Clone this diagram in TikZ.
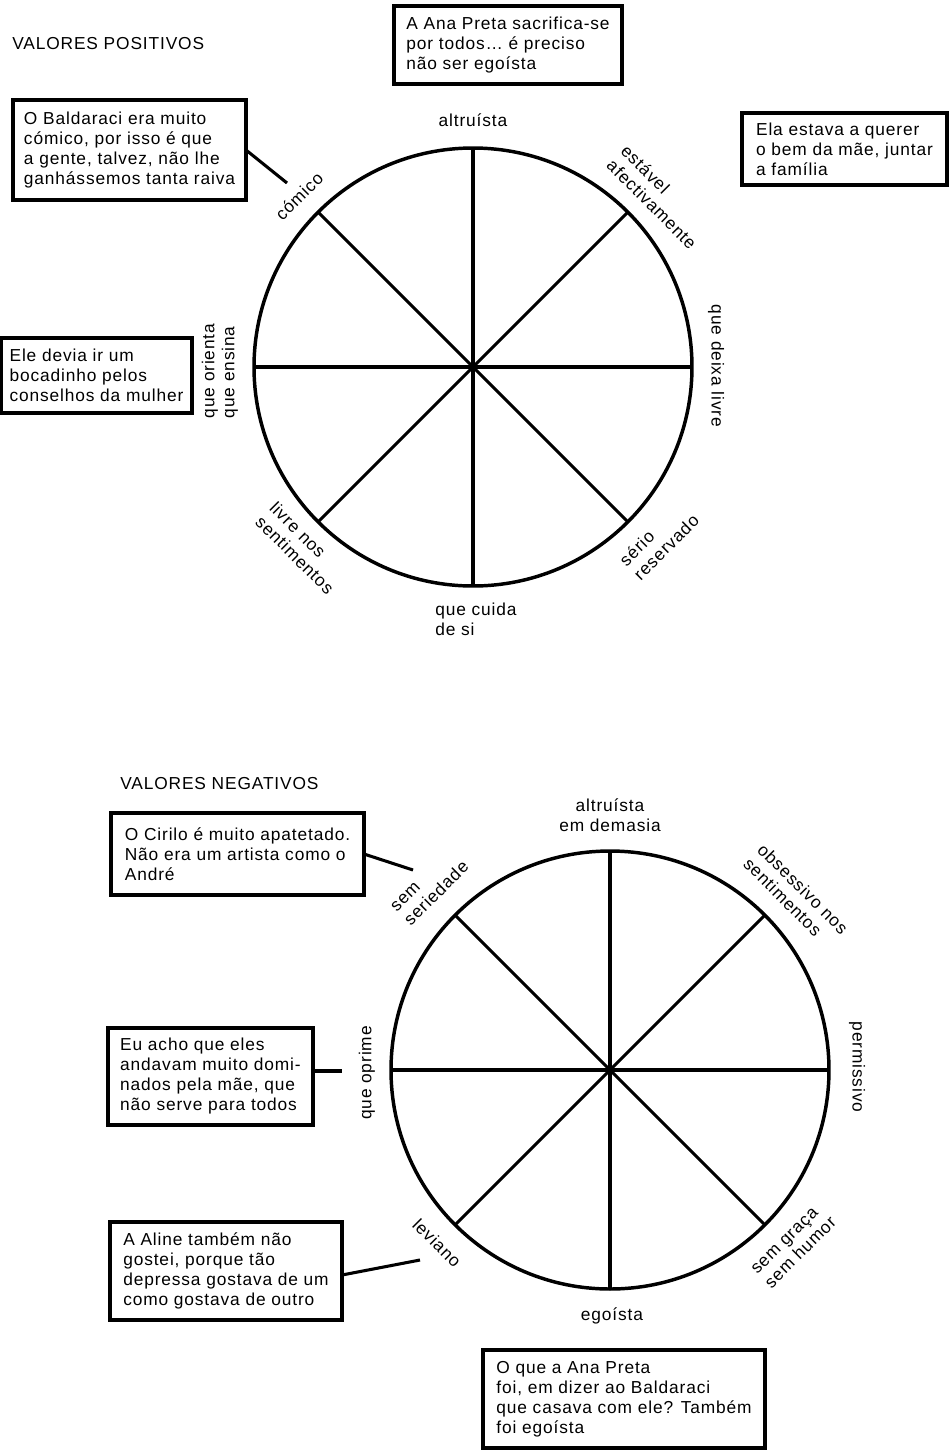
\documentclass[tikz,border=0pt]{standalone}
\usepackage{fontspec}
\setmainfont{Liberation Sans}[LetterSpace=5]
\begin{document}
\begin{tikzpicture}[x=0.75pt,y=-0.75pt,
  font=\fontsize{13}{15}\selectfont,
  box/.style={draw, line width=2.5pt, align=left, inner xsep=7pt, inner ysep=4pt, outer sep=0pt},
  lab/.style={align=left, inner sep=0pt},
  clab/.style={align=center, inner sep=0pt},
  wheel/.style={circle, draw, line width=2.6pt, minimum size=328.5pt, inner sep=0pt, outer sep=0pt},
  spoke/.style={line width=2.3pt},
  link/.style={line width=2.3pt}]
\useasboundingbox (0,0) rectangle (949,1454);

% ---------- VALORES POSITIVOS ----------
\node[lab, anchor=west] (tpos) at (12,44) {VALORES POSITIVOS};

\node[wheel] (W1) at (473,367) {};
\foreach \a in {0,45,...,315} \draw[spoke] (W1.center) -- (W1.\a);

\node[clab] (p1) at (473,120) {altruísta};
\node[lab, rotate=-45] (p2) at (659,197) {estável\\afectivamente};
\node[lab, rotate=-90] (p3) at (716,366) {que deixa livre};
\node[lab, rotate=45] (p4) at (659,540) {sério\\reservado};
\node[lab] (p5) at (476,619) {que cuida\\de si};
\node[lab, rotate=-45] (p6) at (302,548) {livre nos\\sentimentos};
\node[lab, rotate=90] (p7) at (220,371) {que orienta\\que ensina};
\node[lab, rotate=45] (p8) at (299,196) {cómico};

\node[box, minimum width=171pt, minimum height=58.5pt] (b1) at (508,45)
  {A Ana Preta sacrifica-se\\por todos… é preciso\\não ser egoísta};
\node[box, minimum width=174.75pt, minimum height=75pt] (b2) at (129.5,150)
  {O Baldaraci era muito\\cómico, por isso é que\\a gente, talvez, não lhe\\ganhássemos tanta raiva};
\node[box, minimum width=153.75pt, minimum height=54pt] (b3) at (844.5,149)
  {Ela estava a querer\\o bem da mãe, juntar\\a família};
\node[box, minimum width=143.25pt, minimum height=56.25pt, inner xsep=3pt] (b4) at (96.5,375.5)
  {Ele devia ir um\\bocadinho pelos\\conselhos da mulher};

\coordinate (e2) at (287,183);
\draw[link] (b2.east) -- (e2);

% ---------- VALORES NEGATIVOS ----------
\node[lab, anchor=west] (tneg) at (120,784) {VALORES NEGATIVOS};

\node[wheel] (W2) at (610,1070) {};
\foreach \a in {0,45,...,315} \draw[spoke] (W2.center) -- (W2.\a);

\node[clab] (n1) at (610,815) {altruísta\\em demasia};
\node[lab, rotate=-45] (n2) at (796,896) {obsessivo nos\\sentimentos};
\node[lab, rotate=-90] (n3) at (857,1067) {permissivo};
\node[lab, rotate=45] (n4) at (794,1246) {sem graça\\sem humor};
\node[clab] (n5) at (612,1316) {egoísta};
\node[lab, rotate=-45] (n6) at (437,1243) {leviano};
\node[lab, rotate=90] (n7) at (367,1073) {que oprime};
\node[lab, rotate=45] (n8) at (430,887) {sem\\seriedade};

\node[box, minimum width=189.75pt, minimum height=61.5pt] (b5) at (237.5,854)
  {O Cirilo é muito apatetado.\\Não era um artista como o\\André};
\node[box, minimum width=153.75pt, minimum height=72.75pt] (b6) at (210.5,1076.5)
  {Eu acho que eles\\andavam muito domi-\\nados pela mãe, que\\não serve para todos};
\node[box, minimum width=174pt, minimum height=73.5pt] (b7) at (226,1271)
  {A Aline também não\\gostei, porque tão\\depressa gostava de um\\como gostava de outro};
\node[box, minimum width=211.5pt, minimum height=73.5pt] (b8) at (624,1399)
  {O que a Ana Preta\\foi, em dizer ao Baldaraci\\que casava com ele? Também\\foi egoísta};

\coordinate (e5) at (413,870);
\coordinate (e6) at (342,1071);
\coordinate (e7) at (420,1260);
\draw[link] (b5.east) -- (e5);
\draw[link] (b6.east |- e6) -- (e6);
\draw[link] ([yshift=-3pt]b7.east) -- (e7);
\end{tikzpicture}
\end{document}
